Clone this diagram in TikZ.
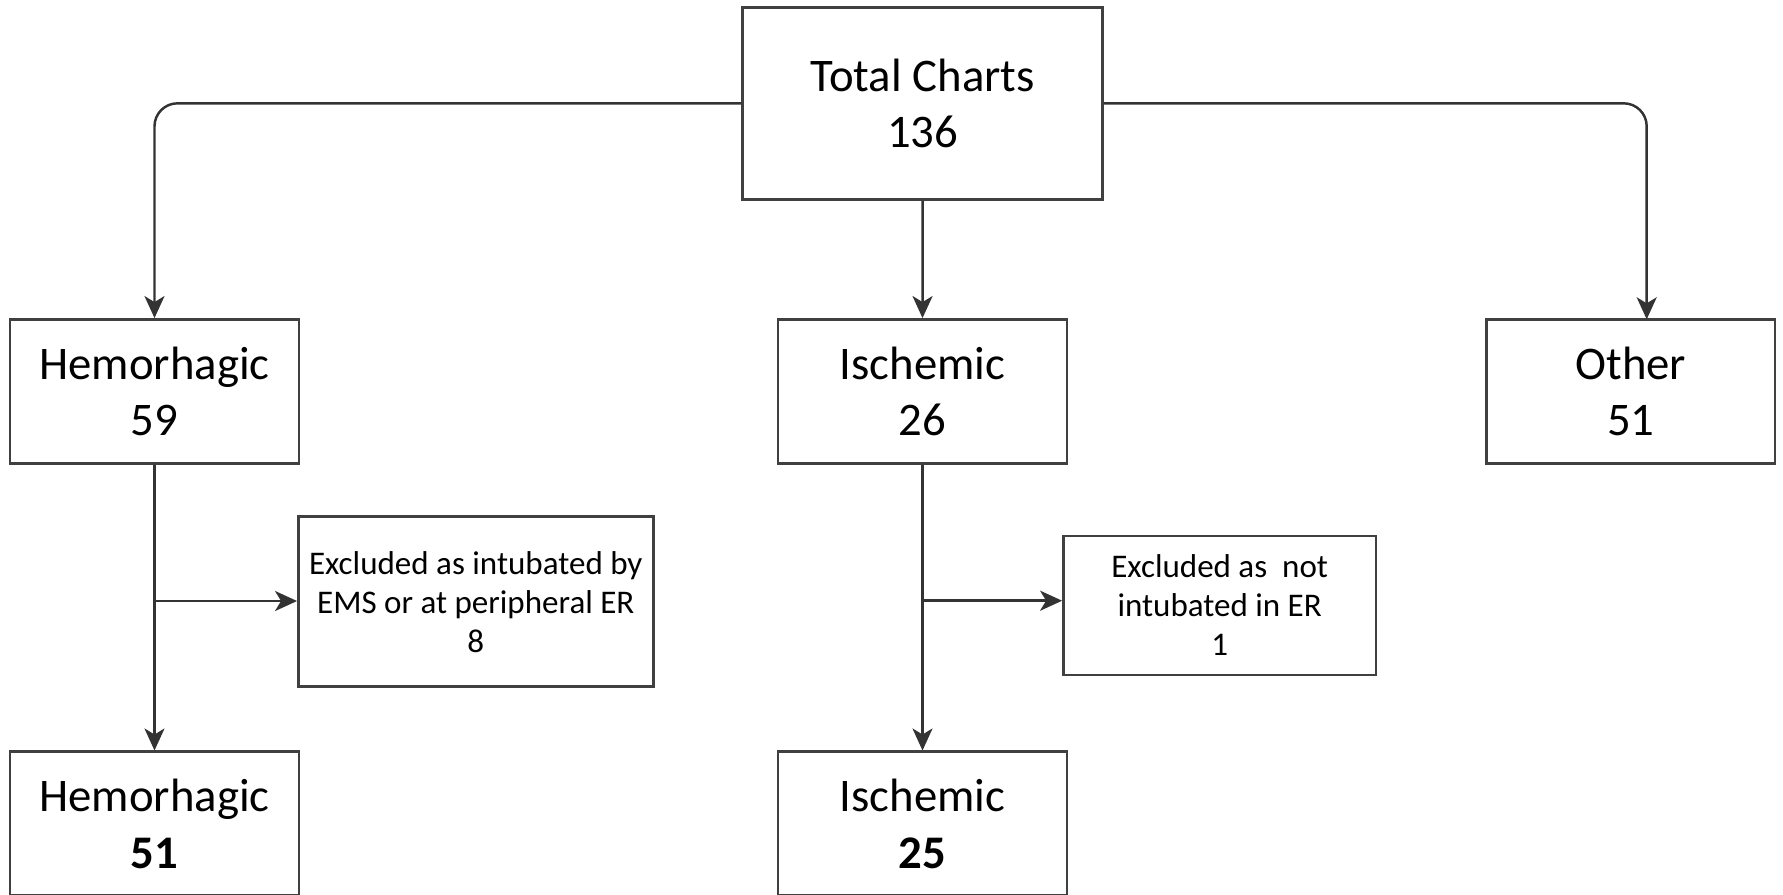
\documentclass[tikz,border=0pt]{standalone}
\usepackage{fontspec}
\setmainfont{Carlito}
\usetikzlibrary{arrows.meta, positioning}

\begin{document}
\begin{tikzpicture}[
    >={Stealth[length=0.22cm, width=0.2cm, inset=0.06cm]},
    line width=0.7pt,
    font=\fontsize{13.3pt}{16.1pt}\selectfont
]

    % Global styles for boxes and connectors
    \tikzset{
        bigbox/.style={
            draw=black!75, inner sep=0pt, align=center,
            minimum width=2.885cm, minimum height=1.44cm,
            execute at begin node={\rule{0pt}{15.5pt}}
        },
        exclbox/.style={
            draw=black!75, inner sep=0pt, align=center,
            font=\fontsize{9.4pt}{11.1pt}\selectfont
        },
        link/.style={draw=black!80, ->}
    }

    \useasboundingbox (0,0) rectangle (17.83,-8.94);

    % Top box
    \node[bigbox, minimum width=3.6cm, minimum height=1.92cm] (total) at (9.227,-1.033) {Total Charts\\136};

    % Level 1 boxes
    \node[bigbox] (hem) at (1.545,-3.913) {Hemorhagic\\59};
    \node[bigbox] (isch) at (9.225,-3.913) {Ischemic\\26};
    \node[bigbox] (other) at (16.309,-3.913) {Other\\51};

    % Wiring total -> level 1
    \coordinate (otherin) at (16.467,-3.193);
    \draw[link, rounded corners=0.23cm] (total.west) -| (hem.north);
    \draw[link, rounded corners=0.23cm] (total.east) -| (otherin);
    \draw[link] (total.south) -- (isch.north);

    % Excluded boxes
    \node[exclbox, minimum width=3.55cm, minimum height=1.70cm] (exhem) at (4.758,-6.017)
        {Excluded as intubated by\\EMS or at peripheral ER\\8};
    \node[exclbox, minimum width=3.127cm, minimum height=1.39cm] (exisch) at (12.197,-6.055)
        {Excluded as~ not\\intubated in ER\\1};

    % Level 2 boxes
    \node[bigbox] (hemfin) at (1.545,-8.237) {Hemorhagic\\\textbf{51}};
    \node[bigbox] (ischfin) at (9.225,-8.237) {Ischemic\\\textbf{25}};

    % Wiring level 1 -> level 2
    \draw[link] (hem.south) -- (hemfin.north);
    \draw[link] (isch.south) -- (ischfin.north);

    % Wiring to excluded boxes
    \coordinate (hemfork) at (hem.south |- 0,-6.01);
    \coordinate (ischfork) at (isch.south |- 0,-6.007);
    \draw[link] (hemfork) -- (hemfork -| exhem.west);
    \draw[link] (ischfork) -- (ischfork -| exisch.west);

\end{tikzpicture}
\end{document}
